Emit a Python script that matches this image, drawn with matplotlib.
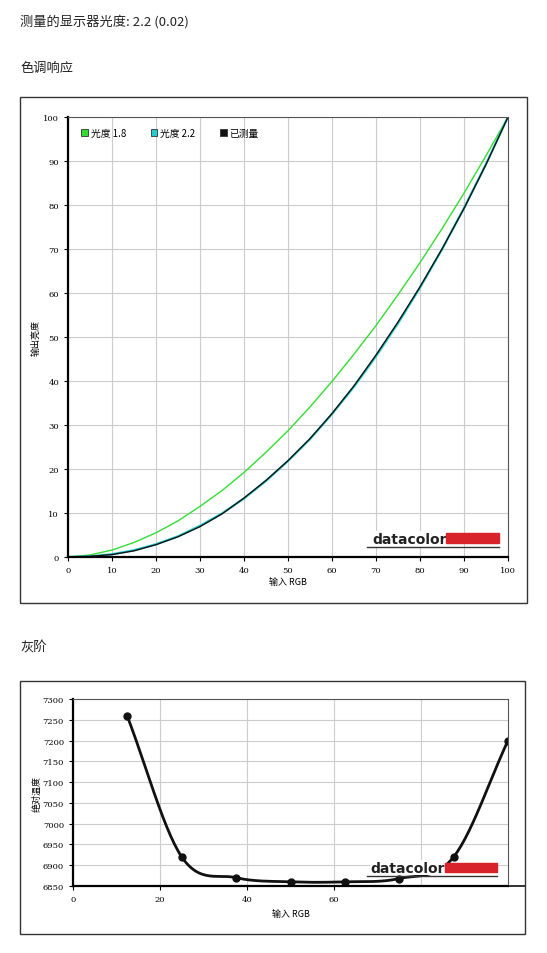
import matplotlib
matplotlib.use("Agg")
import matplotlib.pyplot as plt
import numpy as np
from matplotlib.patches import Rectangle, Patch

plt.rcParams['font.family'] = ['Noto Sans CJK SC', 'DejaVu Sans']

x_in = [0, 5, 10, 15, 20, 25, 30, 35, 40, 45, 50, 55, 60, 65, 70, 75, 80, 85, 90, 95, 100]
gamma18 = [0, 0.46, 1.58, 3.3, 5.5, 8.2, 11.5, 15.1, 19.2, 23.8, 28.7, 34.1, 39.9, 46.1, 52.6, 59.6, 66.9, 74.6, 82.7, 91.2, 100]
gamma22 = [0, 0.14, 0.63, 1.54, 2.9, 4.7, 7.1, 9.9, 13.3, 17.3, 21.8, 26.8, 32.5, 38.7, 45.6, 53.1, 61.2, 69.9, 79.3, 89.3, 100]
measured = [0, 0.15, 0.55, 1.4, 2.8, 4.6, 6.9, 9.8, 13.4, 17.4, 21.9, 26.9, 32.6, 38.9, 45.9, 53.4, 61.4, 70.0, 79.2, 89.2, 100]
legend_labels = ['光度 1.8', '光度 2.2', '已测量']

gray_x = [12.5, 25, 37.5, 50, 62.5, 75, 87.5, 100]
gray_k = [7258, 6920, 6870, 6860, 6860, 6868, 6920, 7200]

W, H = 547, 954
fig = plt.figure(figsize=(W/100, H/100), dpi=100)

def fx(px): return px / W
def fy(py): return 1 - py / H

fig.text(fx(20), fy(22), "测量的显示器光度: 2.2 (0.02)", fontsize=9.5, va='center', color='#222')
fig.text(fx(20), fy(68), "色调响应", fontsize=9.5, va='center', color='#222')
fig.text(fx(20), fy(648), "灰阶", fontsize=9.5, va='center', color='#222')

for (x0, y0, x1, y1) in [(20, 98, 527, 604), (20, 682, 525, 935)]:
    fig.patches.append(Rectangle((fx(x0), fy(y1)), (x1-x0)/W, (y1-y0)/H,
                                 transform=fig.transFigure, fill=False, ec='#333', lw=1.0))

def logo(ax, xr, yb, h):
    ax.text(xr, yb, "datacolor", transform=ax.transAxes, fontsize=10, fontweight='bold',
            color='#222', ha='right', va='bottom', family='DejaVu Sans', zorder=5,
            bbox=dict(fc='white', ec='none', pad=0.5))
    ax.add_patch(Rectangle((xr, yb + 0.3*h), 0.12, h, transform=ax.transAxes,
                           color='#d8232a', zorder=5))
    ax.plot([xr - 0.18, xr + 0.12], [yb - 0.1*h, yb - 0.1*h], transform=ax.transAxes,
            color='#333', lw=1, zorder=5)

def style(ax):
    ax.tick_params(labelsize=6, length=3)
    for t in ax.get_xticklabels() + ax.get_yticklabels():
        t.set_family('DejaVu Serif')
    for s in ['left', 'bottom']: ax.spines[s].set_linewidth(1.6)
    for s in ['top', 'right']: ax.spines[s].set_color('#555')

# top chart
ax1 = fig.add_axes([fx(68), fy(558), (508-68)/W, (558-118)/H])
cols = ['#33dd33', '#22cccc', '#111111']
ax1.plot(x_in, gamma18, color=cols[0], lw=1.0)
ax1.plot(x_in, gamma22, color=cols[1], lw=1.6)
ax1.plot(x_in, measured, color=cols[2], lw=1.0)
ax1.set_xlim(0, 100); ax1.set_ylim(0, 100)
ax1.set_xticks(range(0, 101, 10)); ax1.set_yticks(range(0, 101, 10))
ax1.grid(color='#ccc', lw=0.8)
ax1.set_xlabel("输入 RGB", fontsize=6.5, labelpad=2)
ax1.set_ylabel("输出亮度", fontsize=6.5, labelpad=2)
style(ax1)
handles = [Patch(fc=c, ec='#333', lw=0.6) for c in cols]
ax1.legend(handles, legend_labels, loc='upper left', ncol=3, frameon=False, fontsize=7,
           handlelength=0.7, handleheight=0.7, columnspacing=2.5, handletextpad=0.3,
           bbox_to_anchor=(0.01, 0.995))
logo(ax1, 0.86, 0.025, 0.022)

# bottom chart
ax2 = fig.add_axes([fx(73), fy(887), (508-73)/W, (887-700)/H])
xs = np.array(gray_x, float); ys = np.array(gray_k, float)
P = np.column_stack([xs, ys])
P = np.vstack([2*P[0]-P[1], P, 2*P[-1]-P[-2]])
curve = []
for i in range(1, len(P)-2):
    p0, p1, p2, p3 = P[i-1], P[i], P[i+1], P[i+2]
    for t in np.linspace(0, 1, 30):
        curve.append(0.5*((2*p1) + (-p0+p2)*t + (2*p0-5*p1+4*p2-p3)*t**2 + (-p0+3*p1-3*p2+p3)*t**3))
curve = np.array(curve)
ax2.plot(curve[:, 0], curve[:, 1], color='#111', lw=2)
ax2.plot(gray_x, gray_k, 'o', color='#111', ms=5)
ax2.set_xlim(0, 100); ax2.set_ylim(6850, 7300)
ax2.set_xticks([0, 20, 40, 60]); ax2.set_yticks(range(6850, 7301, 50))
ax2.grid(color='#ccc', lw=0.8)
ax2.axvline(80, color='#ccc', lw=0.8, zorder=0)
ax2.set_xlabel("输入 RGB", fontsize=6.5, labelpad=4)
ax2.set_ylabel("绝对温度", fontsize=6.5, labelpad=1)
style(ax2)
ax2.plot([1.0, 1.04], [0, 0], transform=ax2.transAxes, color='#111', lw=1.2, clip_on=False)
logo(ax2, 0.855, 0.06, 0.05)

fig.savefig("out.png", dpi=100)
